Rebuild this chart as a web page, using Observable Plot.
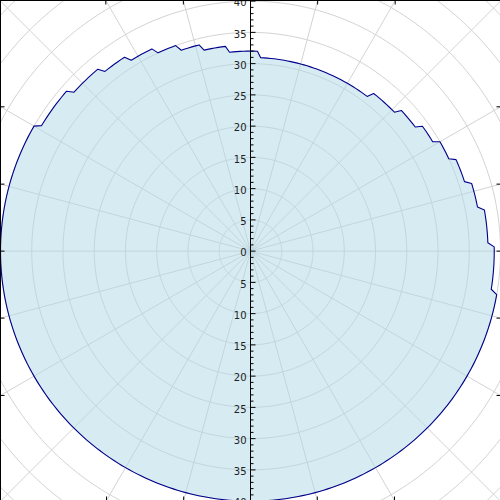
<!DOCTYPE html>
<html>
<head>
<meta charset="utf-8">
<script src="https://cdn.jsdelivr.net/npm/d3@7"></script>
<script src="https://cdn.jsdelivr.net/npm/@observablehq/plot@0.6"></script>
<style>
html, body { margin: 0; padding: 0; background: #fff; }
#chart { width: 500px; height: 500px; overflow: hidden; }
#chart svg { overflow: hidden !important; display: block; }
</style>
</head>
<body>
<div id="chart"></div>
<script>
// Radius (one value per step); each step holds from its start angle
// (degrees, counter-clockwise from east) until the next step starts.
const stepStartDeg = [0, 2, 11, 18, 25, 31, 37, 44, 53, 88, 97, 104, 110, 116, 123, 130, 139, 150, 351];
const stepRadius   = [39, 38, 37, 36, 35, 34, 33, 32, 31, 32, 33, 34, 35, 36, 37, 38, 39, 40, 39];

// Radial axis tick labels, grid circles and angular grid lines
const radialLabels = [-40, -35, -30, -25, -20, -15, -10, -5, 0, 5, 10, 15, 20, 25, 30, 35, 40];
const gridCircles = [5, 10, 15, 20, 25, 30, 35, 40, 45, 50, 55];
const gridAngles = [0, 15, 30, 45, 60, 75, 90, 105, 120, 135, 150, 165, 180, 195, 210, 225, 240, 255, 270, 285, 300, 315, 330, 345];

const xDomain = [-40, 40];
const yDomain = [-39.9, 40.1];
const W = 500, H = 500;
const pxPerUnit = W / (xDomain[1] - xDomain[0]);
const rad = d => d * Math.PI / 180;

function radiusAt(deg) {
  let r = stepRadius[0];
  for (let i = 0; i < stepStartDeg.length; i++) if (deg >= stepStartDeg[i]) r = stepRadius[i];
  return r;
}

// one vertex per degree of the data series
const outline = d3.range(0, 361).map(a => {
  const deg = a % 360, r = radiusAt(deg);
  return {x: r * Math.cos(rad(deg)), y: r * Math.sin(rad(deg))};
});

const circles = gridCircles.flatMap(r => d3.range(0, 361, 1).map(a => ({r, x: r * Math.cos(rad(a)), y: r * Math.sin(rad(a))})));
const spokes = gridAngles.map(a => ({x2: 70 * Math.cos(rad(a)), y2: 70 * Math.sin(rad(a))}));

// minor/major ticks along the radial axis
const minorTicks = d3.range(-39, 41).filter(v => v % 5 !== 0);
const majorTicks = d3.range(-40, 41, 5);
const minorLen = 3.5 / pxPerUnit, majorLen = 5.5 / pxPerUnit;

// ticks where angular grid lines meet the frame
const edgeLen = 4 / pxPerUnit;
const edgeTicks = [];
for (const a of gridAngles) {
  if (a === 90 || a === 270 || a % 45 === 0 && a % 90 !== 0) continue;
  const c = Math.cos(rad(a)), s = Math.sin(rad(a));
  const tx = Math.abs(c) < 1e-9 ? Infinity : (c > 0 ? xDomain[1] / c : xDomain[0] / c);
  const ty = Math.abs(s) < 1e-9 ? Infinity : (s > 0 ? yDomain[1] / s : yDomain[0] / s);
  const t = Math.min(tx, ty);
  const px = t * c, py = t * s;
  if (tx < ty) edgeTicks.push({x1: px, y1: py, x2: px - Math.sign(c) * edgeLen, y2: py});
  else edgeTicks.push({x1: px, y1: py, x2: px, y2: py - Math.sign(s) * edgeLen});
}

const plot = Plot.plot({
  width: W,
  height: H,
  margin: 0,
  x: {domain: xDomain, axis: null},
  y: {domain: yDomain, axis: null},
  style: {background: "white", overflow: "hidden"},
  marks: [
    Plot.line(circles, {x: "x", y: "y", z: "r", stroke: "#d3d3d3", strokeWidth: 1}),
    Plot.link(spokes, {x1: d => 0, y1: d => 0, x2: "x2", y2: "y2", stroke: "#d3d3d3", strokeWidth: 1}),
    Plot.line(outline, {x: "x", y: "y", fill: "lightblue", fillOpacity: 0.5, stroke: "none", curve: "linear-closed"}),
    Plot.line(outline, {x: "x", y: "y", stroke: "#00008b", strokeWidth: 1.1}),
    Plot.ruleX([0], {stroke: "black", strokeWidth: 1}),
    Plot.ruleY(minorTicks, {y: d => d, x1: d => 0, x2: d => minorLen, stroke: "black", strokeWidth: 1}),
    Plot.ruleY(majorTicks, {y: d => d, x1: d => 0, x2: d => majorLen, stroke: "black", strokeWidth: 1}),
    Plot.text(radialLabels, {x: d => 0, y: d => d, text: d => String(Math.abs(d)), textAnchor: "end", dx: -4, dy: 2, fontSize: 10, fontFamily: "DejaVu Sans", fill: "#222"}),
    Plot.ruleX([xDomain[0]], {stroke: "black", strokeWidth: 1}),
    Plot.ruleY([yDomain[1]], {stroke: "black", strokeWidth: 1}),
    Plot.link(edgeTicks, {x1: "x1", y1: "y1", x2: "x2", y2: "y2", stroke: "black", strokeWidth: 1})
  ]
});
document.getElementById("chart").appendChild(plot);
</script>
</body>
</html>
